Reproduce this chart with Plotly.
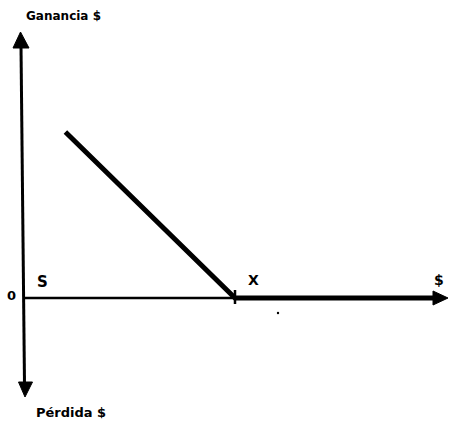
import plotly.graph_objects as go

# Put-option payoff at expiry: profit vs. underlying price
precio = [10, 50, 98]        # underlying price S
ganancia = [40, 0, 0]        # payoff max(X - S, 0)
strike = 50                  # exercise price X

W, H = 449, 427
OX, OY = 23, 298             # pixel position of the origin
SX, SY = 4.24, 4.15          # pixels per data unit


def px(x, y):
    """Pixel position -> paper coordinates."""
    return x / W, 1 - y / H


def tri(p1, p2, p3):
    pts = [px(*p) for p in (p1, p2, p3)]
    return "M {} {} L {} {} L {} {} Z".format(
        pts[0][0], pts[0][1], pts[1][0], pts[1][1], pts[2][0], pts[2][1])


fig = go.Figure()
fig.add_trace(go.Scatter(
    x=precio, y=ganancia, mode="lines",
    line=dict(color="black", width=5),
    hoverinfo="skip", showlegend=False,
))

shapes = []
# vertical axis (profit / loss)
x0, y0 = px(21, 46)
x1, y1 = px(24.5, 384)
shapes.append(dict(type="line", xref="paper", yref="paper", x0=x0, y0=y0, x1=x1, y1=y1,
                   line=dict(color="black", width=3)))
# horizontal axis (price)
x0, y0 = px(24, OY)
x1, y1 = px(436, OY)
shapes.append(dict(type="line", xref="paper", yref="paper", x0=x0, y0=y0, x1=x1, y1=y1,
                   line=dict(color="black", width=2.5)))
# arrowheads
for path in (tri((20.5, 32), (13, 48), (29, 48)),
             tri((25, 397), (18.5, 382), (32.5, 382)),
             tri((448, OY), (433, 291), (433, 305))):
    shapes.append(dict(type="path", xref="paper", yref="paper", path=path,
                       fillcolor="black", line=dict(color="black", width=1)))
# small tick at the strike price
shapes.append(dict(type="line", xref="x", yref="paper", x0=strike, x1=strike,
                   y0=px(0, 290)[1], y1=px(0, 304)[1],
                   line=dict(color="black", width=2.5)))
# speck below the axis
cx, cy = px(278, 313)
shapes.append(dict(type="circle", xref="paper", yref="paper",
                   x0=cx - 1.2 / W, x1=cx + 1.2 / W, y0=cy - 1.2 / H, y1=cy + 1.2 / H,
                   fillcolor="black", line=dict(width=0)))

FONT = "DejaVu Sans"
labels = [
    ("<b>Ganancia $</b>", 63, 16, 12),
    ("<b>Pérdida $</b>", 71, 412, 13),
    ("<b>0</b>", 11, 295, 13),
    ("<b>S</b>", 42.5, 282, 15),
    ("<b>X</b>", 253, 280, 14),
    ("<b>$</b>", 438.5, 280, 14),
]
annotations = []
for text, x, y, size in labels:
    ax_, ay_ = px(x, y)
    annotations.append(dict(text=text, x=ax_, y=ay_, xref="paper", yref="paper",
                            xanchor="center", yanchor="middle", showarrow=False,
                            font=dict(family=FONT, size=size, color="black")))

fig.update_layout(
    width=W, height=H,
    margin=dict(l=0, r=0, t=0, b=0),
    paper_bgcolor="white", plot_bgcolor="white",
    xaxis=dict(range=[-OX / SX, (W - OX) / SX], visible=False, fixedrange=True),
    yaxis=dict(range=[(OY - H) / SY, OY / SY], visible=False, fixedrange=True),
    shapes=shapes, annotations=annotations,
)

fig.write_html("out.html")
